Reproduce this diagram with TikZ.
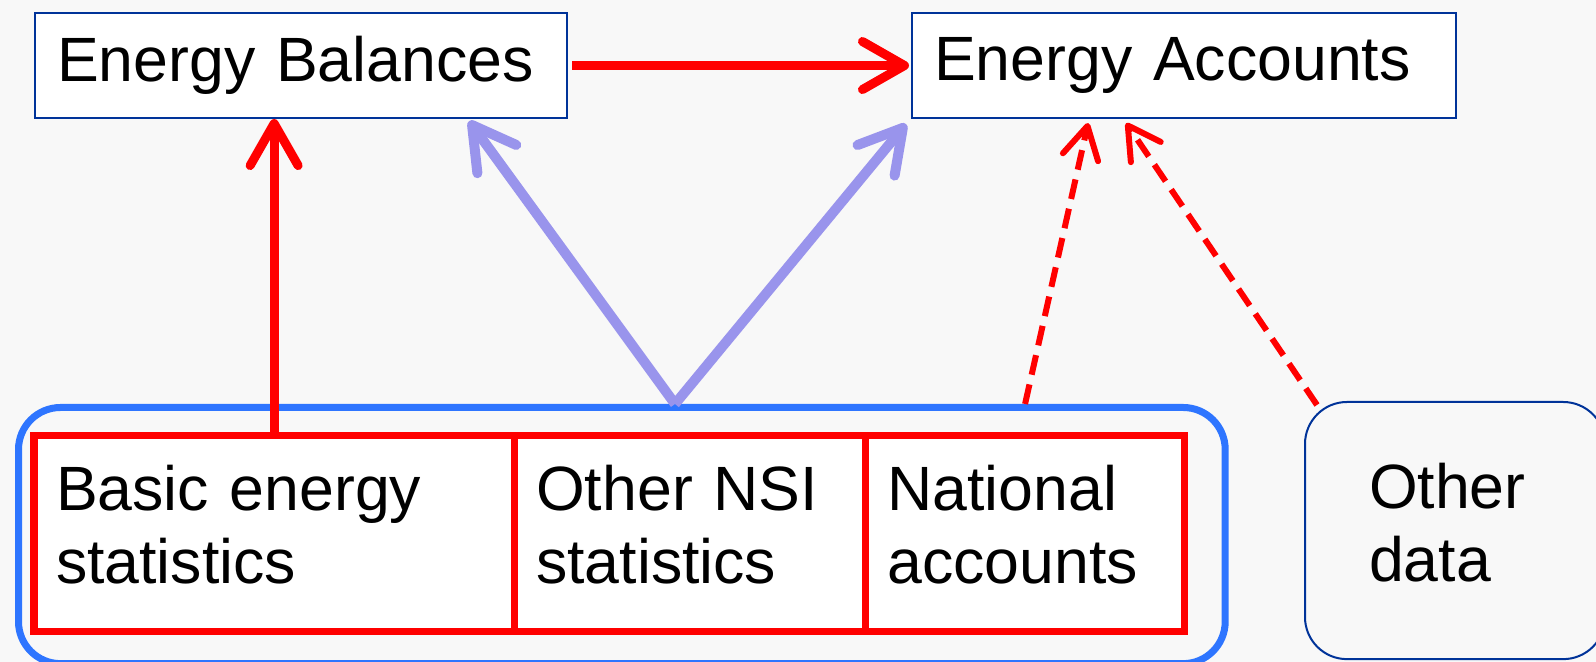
\documentclass[tikz,border=0pt]{standalone}
\usepackage{fontspec}
\setmainfont{Liberation Sans}
\usetikzlibrary{positioning}
\usetikzlibrary{arrows.meta}
\usetikzlibrary{calc}

\definecolor{bgray}{RGB}{248,248,248}
\definecolor{boxblue}{RGB}{0,51,153}
\definecolor{grpblue}{RGB}{46,117,255}
\definecolor{arrpurple}{RGB}{153,148,236}

\tikzset{
	titlebox/.style={anchor=north west, draw=boxblue, line width=0.02cm, fill=white, inner xsep=0.22cm, minimum height=1.05cm, align=left},
	groupbox/.style={anchor=north west, draw=grpblue, line width=0.07cm, fill=bgray, rounded corners=0.42cm},
	statbox/.style={anchor=north west, draw=red, line width=0.07cm, fill=white, outer sep=0pt, inner xsep=0.22cm, minimum height=1.95cm, text height=0.56cm, text depth=1.03cm, align=left},
	otherbox/.style={anchor=north west, draw=boxblue, line width=0.02cm, fill=bgray, rounded corners=0.42cm, inner xsep=0.64cm, minimum height=2.57cm, text width=1.72cm, text height=0.58cm, text depth=1.03cm, align=left},
	redarrow/.style={draw=red, line width=0.09cm, -{Straight Barb[round, length=0.42cm, width=0.48cm]}},
	purplearrow/.style={draw=arrpurple, line width=0.1cm, -{Straight Barb[round, length=0.42cm, width=0.48cm]}},
	dasharrow/.style={draw=red, line width=0.06cm, dash pattern=on 0.2cm off 0.1cm, -{Straight Barb[round, length=0.32cm, width=0.36cm]}}
}

\begin{document}
\begin{tikzpicture}[x=0.01cm, y=-0.01cm, font=\fontsize{17.8}{20.8}\selectfont]
		\fill [bgray] (0, 0) rectangle (1596, 662);
		\clip (0, 0) rectangle (1596, 662);

		\node (bal) [titlebox, text width=4.88cm] at (34, 12) {Energy Balances};
		\node (acc) [titlebox, text width=5.00cm] at (911, 12) {Energy Accounts};

		\node (grp) [groupbox, minimum width=12.06cm, minimum height=2.56cm] at (15, 404) {};
		\node (basic) [statbox, text width=4.36cm] at (34, 436) {Basic energy\\statistics};
		\node (nsi) [statbox, text width=3.07cm, right=0pt of basic] {Other NSI\\statistics};
		\node (nat) [statbox, text width=2.75cm, right=0pt of nsi] {National\\accounts};
		\node (odata) [otherbox] at (1304, 401) {Other\\data};

		\draw [redarrow, shorten <=0.04cm, shorten >=0.02cm] (bal.east) -- (acc.west);
		\draw [redarrow] (basic.north) -- (basic.north |- bal.south);

		\coordinate (fork) at (675, 404);
		\draw [purplearrow] (fork) -- ($(bal.south)+(168, 2)$);
		\draw [purplearrow] (fork) -- ($(acc.south west)+(-5, 5)$);

		\draw [dasharrow] (nat.north |- grp.north) -- ($(acc.south)+(-96, 4)$);
		\draw [dasharrow] ($(odata.north west)+(13, 4)$) -- ($(acc.south)+(-58, 4)$);
	\end{tikzpicture}
\end{document}
